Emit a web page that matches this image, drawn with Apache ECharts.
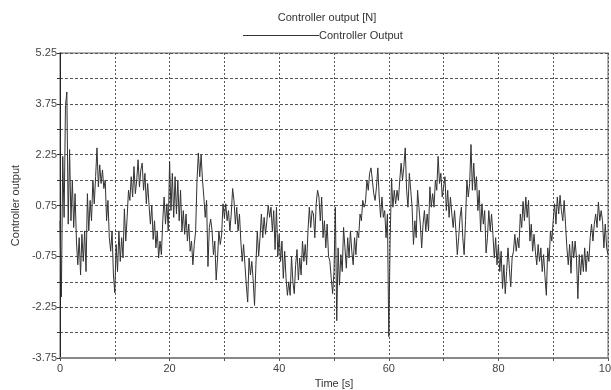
<!DOCTYPE html>
<html>
<head>
<meta charset="utf-8">
<script src="https://cdn.jsdelivr.net/npm/echarts@6/dist/echarts.min.js"></script>
<style>
  html, body { margin: 0; padding: 0; background: #fff; }
  #chart { width: 611px; height: 390px; }
</style>
</head>
<body>
<div id="chart"></div>
<script>
var timeStep = 0.25;
var controllerOutput = [
  0.3, -1.95, 2.2, 0.4, 3.7, 4.1, 0.2, 2.4, 0.3, 1.5, 0.1, 1.1, -0.3, -1.0, -0.2, -1.3, -0.1, -0.9, 0.0, -1.2,
  1.1, 0.0, 0.9, 0.3, 1.5, 0.8, 1.6, 2.45, 1.3, 1.95, 1.4, 1.8, 1.25, 1.5, 0.3, 0.9, -0.2, -0.6, 0.0, -1.3,
  -1.83, -0.4, -1.2, 0.0, -0.9, -0.2, -0.8, 0.65, -0.3, 0.4, 1.2, 0.9, 1.6, 1.0, 1.9, 1.1, 1.5, 2.1, 1.3, 1.8,
  2.0, 1.2, 1.7, 0.8, 1.4, 0.75, 0.2, 0.75, -0.25, 0.3, -0.5, 0.0, -0.8, -0.3, -0.7, 0.3, 1.0, 0.2, 0.8, 0.0,
  2.05, 0.6, 1.7, 0.4, 1.6, 0.5, 1.5, 0.3, 1.2, 0.0, 0.6, -0.1, 0.5, -0.3, 0.2, -0.6, -0.3, -1.0, -0.4, 0.0,
  1.5, 2.3, 1.6, 2.25, 1.5, 1.0, 0.4, 0.9, -1.05, 0.1, 0.35, 0.0, -0.7, -0.3, -1.45, -0.8, 0.0, -0.4, -0.1, 0.8,
  0.4, 0.8, 0.3, 0.6, 0.0, 0.5, 1.25, 0.9, 0.2, 0.7, 0.0, 0.5, -0.3, -0.9, -0.4, -1.0, -1.6, -2.1, -0.8, -1.3,
  -0.9, -1.45, -2.2, -1.0, 0.0, -0.75, -0.2, 0.5, -0.2, 0.4, -0.1, 0.3, 0.75, 0.4, 0.7, 0.0, 0.6, -0.55, 0.7, -0.75,
  -0.1, -0.9, -0.3, -1.4, -0.6, -1.4, -1.9, -1.5, -1.9, -0.75, -1.5, -1.85, -1.0, -0.55, -1.45, -0.8, -1.3, -0.3, -0.9, -0.4,
  -1.0, 0.0, 0.7, 0.1, 0.6, 0.5, -0.2, 0.8, 1.2, 1.0, 0.3, 1.0, -0.2, 0.3, -0.5, 0.2, -0.75, -0.9, -1.4, -1.85,
  -1.2, 0.7, -2.65, -0.5, -1.6, -0.7, -1.2, 0.1, -0.5, -1.1, -0.2, -0.8, 0.0, -0.6, -1.0, -0.2, -0.7, 0.0, -0.2, 0.5,
  0.3, 0.9, 0.7, 0.85, 1.5, 1.2, 1.7, 1.86, 1.5, 1.1, 0.9, 1.3, 1.86, 1.0, 0.4, 1.0, 0.4, 0.6, -0.2, 0.5,
  -3.12, -0.2, 1.55, 0.7, 1.2, 0.8, 1.2, 0.9, 1.5, 2.0, 1.5, 1.9, 2.45, 1.2, 0.7, 1.7, 1.2, 0.7, -0.4, 0.3,
  -0.2, 1.2, 0.7, 0.2, -0.5, 0.2, 0.6, 0.0, 0.5, 0.0, 1.3, 0.7, 1.1, 0.7, 1.5, 1.2, 2.2, 1.4, 1.7, 1.0,
  1.3, 1.6, 0.6, 1.2, 0.4, 1.0, 0.5, 0.1, 0.6, 0.0, -0.7, -0.2, 0.4, 0.7, -0.2, -0.7, 0.3, 1.5, 1.0, 1.4,
  2.55, 1.2, 2.0, 1.2, 1.6, 0.6, 1.2, 0.0, 0.8, 0.2, 0.6, -0.65, -0.2, 0.6, 0.0, 0.5, -0.1, -0.8, -0.2, -1.0,
  -0.4, -1.2, -0.6, -1.7, -1.0, -1.85, -1.2, -0.5, -1.1, -1.65, -0.8, -0.6, -0.1, -0.6, -0.2, -0.5, 0.5, 0.1, 0.87, 0.3,
  1.0, 0.4, 0.9, -0.3, 0.2, -0.6, -0.1, -0.6, -1.0, -0.4, -0.9, -0.5, -1.2, -0.7, -1.35, -1.9, -0.5, -0.9, 0.0, -0.3,
  0.3, 0.8, 0.2, 1.0, 0.5, 1.05, 0.6, 0.3, 0.9, 0.2, -0.5, -1.0, -0.4, -1.25, -0.3, -0.8, -0.3, -0.8, -2.0, -0.7,
  -1.3, -0.7, -1.2, -0.5, -1.2, -0.6, -0.9, -0.2, 0.2, -0.3, 0.2, 0.5, 0.1, 0.85, 0.3, 0.6, 0.3, -0.5, 0.2, -0.5,
  -0.7
];
var xTickLabels = ['0', '20', '40', '60', '80', '100'];
var yTickLabels = ['-3.75', '-2.25', '-0.75', '0.75', '2.25', '3.75', '5.25'];

var seriesData = controllerOutput.map(function (v, i) { return [i * timeStep, v]; });

var font = 'Arial, "Liberation Sans", sans-serif';
var chart = echarts.init(document.getElementById('chart'));
chart.setOption({
  animation: false,
  backgroundColor: '#fff',
  title: {
    text: 'Controller output [N]',
    left: 322,
    top: 7,
    textAlign: 'center',
    textStyle: { fontFamily: font, fontSize: 11, fontWeight: 'normal', color: '#333' }
  },
  legend: {
    data: ['Controller Output'],
    icon: 'rect',
    left: 238,
    top: 25,
    itemWidth: 76,
    itemHeight: 1,
    textStyle: { fontFamily: font, fontSize: 11, color: '#333', padding: [0, 0, 0, -5] }
  },
  grid: {
    left: 60, right: 3, top: 53, bottom: 32,
    outerBoundsMode: 'none',
    show: true, borderColor: '#999', borderWidth: 1.5
  },
  xAxis: {
    type: 'value',
    min: 0, max: 100, interval: 10,
    name: 'Time [s]',
    nameLocation: 'middle',
    nameGap: 20,
    nameTextStyle: { fontFamily: font, fontSize: 11, color: '#333' },
    axisLine: { onZero: false, lineStyle: { color: '#888', width: 2 } },
    axisTick: { show: true, length: 3, lineStyle: { color: '#555' } },
    axisLabel: {
      fontFamily: font, fontSize: 11, color: '#444', margin: 5,
      formatter: function (v) { var s = String(Math.round(v)); return xTickLabels.indexOf(s) >= 0 ? s : ''; }
    },
    splitLine: { show: true, lineStyle: { color: '#555', type: [2, 2], width: 1 } }
  },
  yAxis: {
    type: 'value',
    min: -3.75, max: 5.25, interval: 0.75,
    name: 'Controller output',
    nameLocation: 'middle',
    nameGap: 34,
    nameTextStyle: { fontFamily: font, fontSize: 11, color: '#333' },
    axisLine: { show: true, onZero: false, lineStyle: { color: '#222', width: 1 } },
    axisTick: { show: true, length: 3, lineStyle: { color: '#333' } },
    axisLabel: {
      fontFamily: font, fontSize: 11, color: '#444', margin: 3,
      formatter: function (v) { var s = v.toFixed(2); return yTickLabels.indexOf(s) >= 0 ? s : ''; }
    },
    splitLine: { show: true, lineStyle: { color: '#555', type: [3, 2], width: 1 } }
  },
  series: [{
    name: 'Controller Output',
    type: 'line',
    data: seriesData,
    symbol: 'none',
    lineStyle: { color: '#333', width: 1 },
    itemStyle: { color: '#333' }
  }]
});
</script>
</body>
</html>
